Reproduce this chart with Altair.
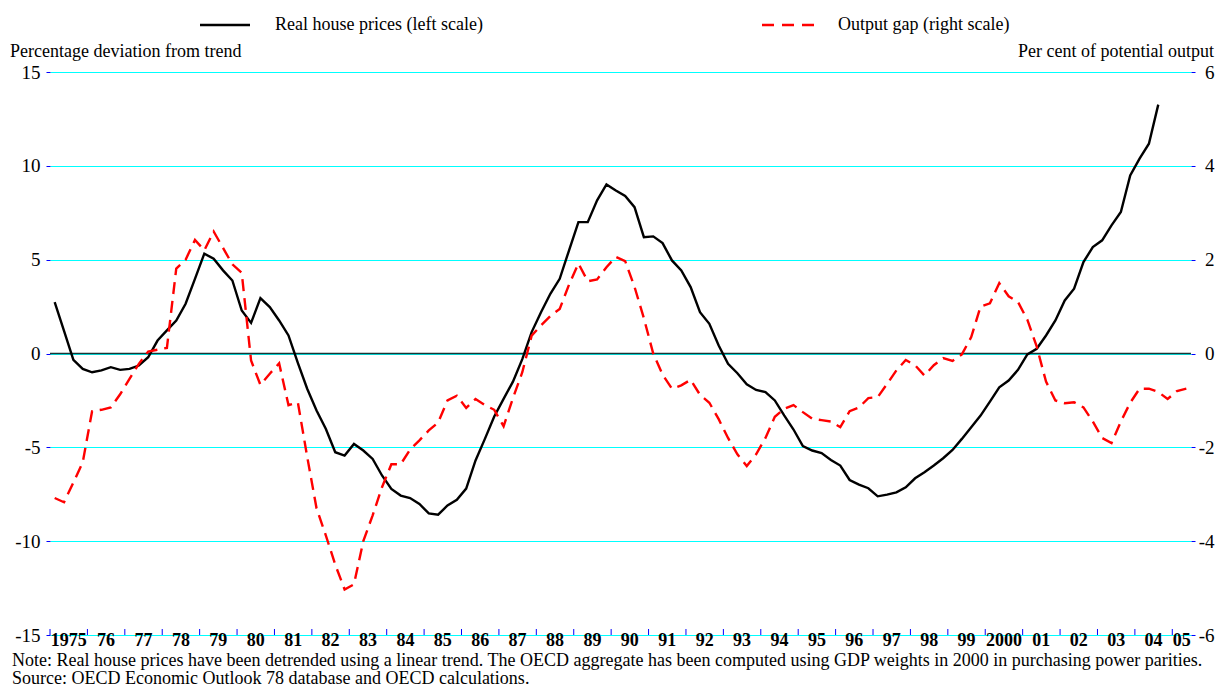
import altair as alt
import pandas as pd

SERIF = "Liberation Serif"

# ---------------- data (quarterly, starting 1975Q1) ----------------
house_prices = [
    2.74, 1.2, -0.34, -0.82,      # 1975
    -1.0, -0.9, -0.73, -0.87,     # 1976
    -0.82, -0.64, -0.2, 0.69,     # 1977
    1.23, 1.76, 2.65, 3.98,       # 1978
    5.32, 5.05, 4.43, 3.89,       # 1979
    2.29, 1.63, 2.95, 2.47,       # 1980
    1.76, 0.96, -0.5, -1.88,      # 1981
    -3.04, -4.02, -5.26, -5.44,   # 1982
    -4.82, -5.17, -5.62, -6.5,    # 1983
    -7.22, -7.57, -7.7, -8.02,    # 1984
    -8.52, -8.59, -8.1, -7.8,     # 1985
    -7.2, -5.7, -4.55, -3.36,     # 1986
    -2.42, -1.5, -0.3, 1.14,      # 1987
    2.2, 3.18, 3.98, 5.5,         # 1988
    7.0, 7.0, 8.16, 9.01,         # 1989
    8.69, 8.39, 7.8, 6.2,         # 1990
    6.24, 5.88, 4.96, 4.43,       # 1991
    3.54, 2.2, 1.58, 0.43,        # 1992
    -0.55, -1.05, -1.64, -1.94,   # 1993
    -2.06, -2.5, -3.3, -4.05,     # 1994
    -4.93, -5.17, -5.31, -5.67,   # 1995
    -5.97, -6.74, -6.99, -7.18,   # 1996
    -7.61, -7.52, -7.4, -7.13,    # 1997
    -6.65, -6.33, -5.97, -5.58,   # 1998
    -5.14, -4.55, -3.93, -3.31,   # 1999
    -2.56, -1.8, -1.44, -0.87,    # 2000
    -0.05, 0.25, 0.96, 1.76,      # 2001
    2.83, 3.45, 4.87, 5.67,       # 2002
    6.03, 6.83, 7.54, 9.49,       # 2003
    10.38, 11.18, 13.26,          # 2004
]

output_gap = [
    -3.08, -3.17, -2.75, -2.32,   # 1975
    -1.23, -1.2, -1.15, -0.87,    # 1976
    -0.54, -0.22, 0.04, 0.08,     # 1977
    0.12, 1.81, 2.0, 2.42,        # 1978
    2.2, 2.6, 2.25, 1.9,          # 1979
    1.72, -0.15, -0.67, -0.43,    # 1980
    -0.21, -1.1, -1.04, -2.2,     # 1981
    -3.3, -3.88, -4.5, -5.03,     # 1982
    -4.92, -4.0, -3.45, -2.85,    # 1983
    -2.36, -2.36, -2.05, -1.85,   # 1984
    -1.64, -1.47, -1.0, -0.9,     # 1985
    -1.16, -0.97, -1.1, -1.2,     # 1986
    -1.55, -0.95, -0.4, 0.38,     # 1987
    0.6, 0.8, 0.95, 1.47,         # 1988
    1.92, 1.54, 1.58, 1.84,       # 1989
    2.06, 1.97, 1.42, 0.75,       # 1990
    0.0, -0.45, -0.75, -0.68,     # 1991
    -0.56, -0.88, -1.05, -1.4,    # 1992
    -1.8, -2.15, -2.4, -2.15,     # 1993
    -1.8, -1.35, -1.18, -1.1,     # 1994
    -1.25, -1.39, -1.42, -1.45,   # 1995
    -1.57, -1.23, -1.15, -0.95,   # 1996
    -0.93, -0.65, -0.36, -0.14,   # 1997
    -0.25, -0.47, -0.25, -0.1,    # 1998
    -0.16, -0.02, 0.35, 1.0,      # 1999
    1.07, 1.5, 1.22, 1.1,         # 2000
    0.72, 0.15, -0.6, -1.0,       # 2001
    -1.06, -1.04, -1.15, -1.45,   # 2002
    -1.8, -1.91, -1.45, -1.05,    # 2003
    -0.75, -0.75, -0.82, -0.97,   # 2004
    -0.8, -0.75,                  # 2005
]

years = list(range(1975, 2006))
year_labels = ["1975", "76", "77", "78", "79", "80", "81", "82", "83", "84",
               "85", "86", "87", "88", "89", "90", "91", "92", "93", "94",
               "95", "96", "97", "98", "99", "2000", "01", "02", "03", "04", "05"]
left_ticks = [-15, -10, -5, 0, 5, 10, 15]
right_ticks = [-6, -4, -2, 0, 2, 4, 6]

legend_house = "Real house prices (left scale)"
legend_gap = "Output gap (right scale)"
left_title = "Percentage deviation from trend"
right_title = "Per cent of potential output"
note_lines = [
    "Note: Real house prices have been detrended using a linear trend. The OECD aggregate has been computed using GDP weights in 2000 in purchasing power parities.",
    "Source: OECD Economic Outlook 78 database and OECD calculations.",
]

# ---------------- tables ----------------
X_START, X_END = 1975.0, 2005.5


def qtime(i):
    return X_START + (i + 0.5) / 4.0


df_house = pd.DataFrame({"t": [qtime(i) for i in range(len(house_prices))], "v": house_prices})
df_gap = pd.DataFrame({"t": [qtime(i) for i in range(len(output_gap))], "g": output_gap})
df_years = pd.DataFrame({"year": years})
df_labels = pd.DataFrame({
    "pos": [(max(y, X_START) + min(y + 1, X_END)) / 2.0 for y in years],
    "label": year_labels,
})
df_zero = pd.DataFrame({"v": [0]})
one = pd.DataFrame({"k": [0]})

W, H = 1141, 563
xscale = alt.Scale(domain=[X_START, X_END], nice=False, zero=False)
xenc = lambda f: alt.X(f, type="quantitative", scale=xscale, axis=None)

left_axis = alt.Axis(values=left_ticks, title=None, labelFont=SERIF, labelFontSize=19,
                     labelColor="black", labelExpr="'' + datum.value",
                     tickColor="#0000FF", tickSize=4, labelPadding=6, domain=False,
                     grid=True, gridColor="#00FFFF", gridWidth=1, gridOpacity=1)
right_axis = alt.Axis(values=right_ticks, title=None, orient="right", labelFont=SERIF,
                      labelFontSize=19, labelColor="black", labelExpr="'' + datum.value",
                      labelAlign="right", labelPadding=19,
                      tickColor="#0000FF", tickSize=4, domain=False, grid=False)

yleft = alt.Scale(domain=[-15, 15], nice=False, zero=False)
yright = alt.Scale(domain=[-6, 6], nice=False, zero=False)

zero_line = alt.Chart(df_zero).mark_rule(color="#1c3434", strokeWidth=1.6).encode(
    y=alt.Y("v:Q", scale=yleft, axis=left_axis)
)
house_line = alt.Chart(df_house).mark_line(color="black", strokeWidth=2.4).encode(
    x=xenc("t"), y=alt.Y("v:Q", scale=yleft, axis=left_axis)
)
left_layer = alt.layer(zero_line, house_line)

gap_line = alt.Chart(df_gap).mark_line(color="#FF0000", strokeWidth=2.4, strokeDash=[12, 7]).encode(
    x=xenc("t"), y=alt.Y("g:Q", scale=yright, axis=right_axis)
)

year_ticks = alt.Chart(df_years).mark_rule(color="#0000FF", strokeWidth=1).encode(
    x=xenc("year"), y=alt.value(H - 6), y2=alt.value(H)
)
year_text = alt.Chart(df_labels).mark_text(font=SERIF, fontSize=18, fontWeight="bold",
                                           baseline="middle", align="center", color="black").encode(
    x=xenc("pos"), y=alt.value(H + 6), text="label:N"
)


def txt(s, x, y, align="left", size=18, baseline="middle"):
    return alt.Chart(one).mark_text(
        font=SERIF, fontSize=size, align=align, baseline=baseline, color="black"
    ).encode(x=alt.value(x), y=alt.value(y), text=alt.value(s))


leg_black = alt.Chart(one).mark_rule(color="black", strokeWidth=2.6).encode(
    x=alt.value(150), x2=alt.value(200), y=alt.value(-47))
leg_red = alt.Chart(one).mark_rule(color="#FF0000", strokeWidth=2.6, strokeDash=[12, 8]).encode(
    x=alt.value(712), x2=alt.value(765), y=alt.value(-47))

chart = alt.layer(
    left_layer,
    gap_line,
    year_ticks,
    year_text,
    leg_black,
    leg_red,
    txt(legend_house, 225, -47),
    txt(legend_gap, 788, -47),
    txt(left_title, -40, -20),
    txt(right_title, 1164, -20, align="right"),
    txt(note_lines[0], -38, 594, baseline="alphabetic"),
    txt(note_lines[1], -38, 612, baseline="alphabetic"),
).resolve_scale(y="independent").properties(
    width=W, height=H,
    autosize=alt.AutoSizeParams(type="none"),
    padding={"left": 42, "top": 64, "right": 24, "bottom": 54},
).configure_view(stroke=None)

chart.save("out.html", embed_options={"renderer": "svg", "actions": False})
